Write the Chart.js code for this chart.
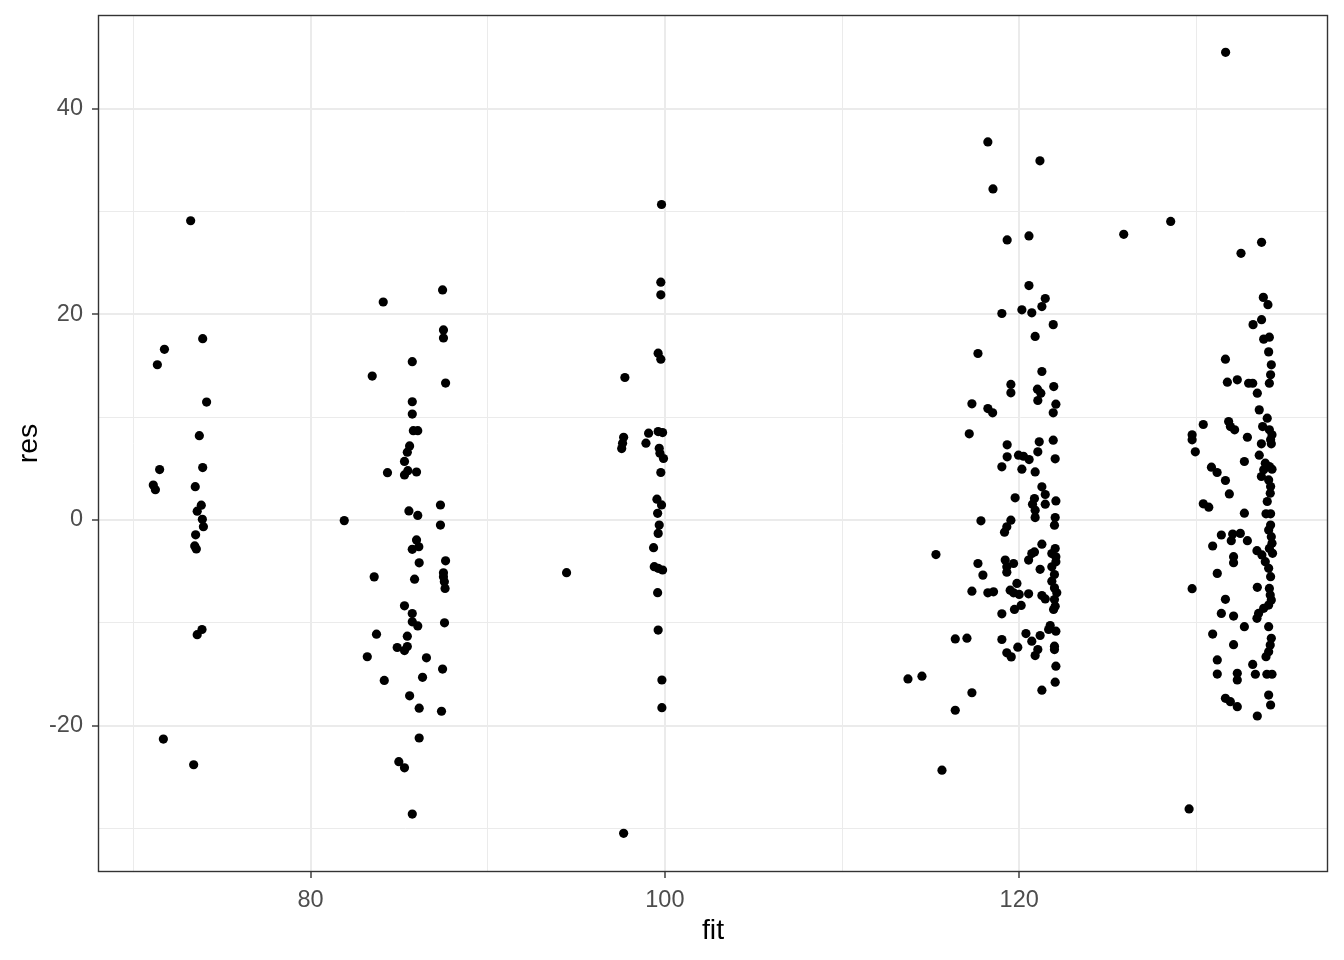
<!DOCTYPE html>
<html>
<head>
<meta charset="utf-8">
<script src="https://cdn.jsdelivr.net/npm/chart.js@4/dist/chart.umd.min.js"></script>
<style>
  html, body { margin: 0; padding: 0; background: #ffffff; }
  #wrap { width: 1344px; height: 960px; }
</style>
</head>
<body>
<div id="wrap"><canvas id="c" width="1344" height="960"></canvas></div>
<script>
// ---- data (fitted values vs residuals) ----
const fitGroup1 = [73.23,73.91,71.75,71.35,74.13,73.72,71.48,73.91,71.12,71.24,73.49,73.83,73.6,73.89,73.95,73.51,73.46,73.55,73.87,73.6,71.69,73.4];
const resGroup1 = [29.1,17.63,16.6,15.1,11.47,8.2,4.9,5.1,3.4,2.95,3.24,1.44,0.86,0.07,-0.65,-1.44,-2.52,-2.81,-10.65,-11.15,-21.3,-23.8];

const fitGroup2 = [87.45,84.1,87.5,87.5,85.74,83.48,87.62,85.74,85.74,85.8,86.05,85.59,85.46,85.3,84.34,85.3,85.49,85.98,87.33,85.55,86.05,81.9,87.33,85.98,85.74,86.11,86.13,87.62,87.5,87.5,87.55,87.59,83.59,85.87,85.3,85.74,85.74,86.05,87.56,83.72,85.46,84.89,85.46,85.3,83.2,86.54,87.45,84.16,86.32,85.59,86.13,87.39,86.13,84.98,85.3,85.74];
const resGroup2 = [22.37,21.2,18.48,17.7,15.4,14.0,13.32,11.5,10.3,8.69,8.69,7.2,6.6,5.7,4.6,4.38,4.8,4.67,1.46,0.88,0.45,-0.06,-0.49,-1.94,-2.85,-2.6,-4.16,-3.97,-5.13,-5.53,-6.01,-6.66,-5.53,-5.75,-8.35,-9.1,-9.9,-10.3,-10.0,-11.1,-11.3,-12.4,-12.3,-12.7,-13.3,-13.4,-14.5,-15.6,-15.3,-17.1,-18.3,-18.6,-21.2,-23.5,-24.1,-28.6];

const fitGroup3 = [99.81,99.77,99.77,99.62,99.77,97.74,97.67,97.61,97.56,99.08,98.93,99.62,99.87,99.68,99.72,99.92,99.77,99.55,99.81,99.59,99.68,99.62,99.36,94.45,99.4,99.62,99.87,99.59,99.62,99.83,99.83,97.67];
const resGroup3 = [30.68,23.13,21.9,16.22,15.64,13.86,8.05,7.47,6.95,8.44,7.47,8.6,8.5,6.98,6.5,5.98,4.62,2.03,1.47,0.65,-0.49,-1.3,-2.69,-5.12,-4.54,-4.7,-4.86,-7.07,-10.7,-15.56,-18.25,-30.47];

const fitGroup4 = [118.23,121.17,118.52,120.55,119.32,120.55,121.47,121.28,119.02,120.15,120.71,121.92,120.9,117.67,121.28,119.53,119.53,121.03,121.22,121.05,121.95,117.33,118.23,118.5,122.07,
  121.92,117.18,119.32,121.13,121.05,121.92,119.32,119.96,120.24,120.56,122.03,119.02,120.15,120.9,121.28,121.47,119.77,120.86,120.75,120.9,120.9,121.47,122.07,122.03,121.99,117.84,119.53,119.3,119.17,121.28,120.86,120.71,122.03,121.84,122.07,115.3,117.67,119.21,119.68,119.3,120.53,121.18,121.84,122.07,
  117.95,119.3,121.99,121.84,121.99,122.12,121.99,122.03,121.94,117.33,118.23,118.55,119.49,119.87,119.68,120.0,120.53,121.28,121.47,119.02,119.73,120.11,121.75,122.07,121.66,120.38,120.71,121.18,119.02,119.92,119.3,119.55,121.05,120.9,121.99,121.99,116.39,117.05,122.07,122.03,121.28,113.72,114.51,117.33,116.39,115.64];
const resGroup4 = [36.77,34.93,32.2,27.63,27.24,22.8,21.54,20.76,20.08,20.44,20.15,19.0,17.85,16.19,14.44,13.18,12.37,12.72,12.33,11.62,12.98,11.3,10.84,10.42,11.26,
  10.42,8.38,7.31,7.6,6.63,7.76,6.14,6.3,6.2,5.88,5.95,5.17,4.94,4.68,3.23,2.48,2.16,2.09,1.54,0.96,0.24,1.54,1.86,0.24,-0.5,-0.08,-0.02,-0.66,-1.18,-2.35,-3.1,-3.26,-2.77,-3.26,-3.58,-3.36,-4.23,-3.9,-4.23,-4.55,-3.9,-4.8,-4.55,-4.07,
  -5.36,-5.07,-5.3,-5.95,-6.6,-7.08,-7.73,-8.38,-8.7,-6.92,-7.08,-6.98,-6.82,-6.17,-7.08,-7.24,-7.18,-7.34,-7.67,-9.12,-8.7,-8.31,-10.26,-10.81,-10.65,-11.04,-11.78,-11.23,-11.62,-12.37,-12.92,-13.31,-12.6,-13.18,-12.27,-12.6,-11.56,-11.49,-14.21,-15.77,-16.55,-15.45,-15.19,-16.8,-18.5,-24.33];

const fitGroup5 = [131.65,128.55,125.9,133.68,132.52,133.78,134.04,133.68,133.2,
  133.8,134.12,134.08,131.64,134.23,134.19,131.75,132.31,132.95,133.18,134.12,133.44,133.55,134.0,130.39,131.82,131.92,132.16,133.74,134.12,134.27,134.19,134.23,129.76,129.76,132.88,133.67,129.94,132.71,133.55,133.89,134.12,133.8,134.27,130.85,131.17,131.64,133.67,134.08,134.19,134.17,131.86,134.0,130.39,130.7,132.71,133.93,134.19,
  134.19,134.08,134.23,134.27,134.12,134.3,131.41,132.05,132.48,131.97,132.88,130.92,133.42,133.7,132.1,132.1,133.89,134.08,134.19,131.18,129.76,133.44,134.12,134.17,134.23,134.08,131.64,133.8,133.51,133.42,131.41,132.1,132.71,134.08,130.92,134.23,134.17,134.08,133.93,132.1,131.18,133.18,131.18,132.31,132.31,133.33,133.98,134.27,131.64,131.92,132.31,134.08,134.19,133.44,129.59];
const resGroup5 = [45.48,29.04,27.78,27.0,25.93,21.65,20.94,19.48,19.0,
  17.59,17.78,16.35,15.64,15.09,14.12,13.4,13.63,13.3,13.3,13.3,12.33,10.71,9.9,9.29,9.58,9.09,8.77,9.09,8.77,8.28,7.8,7.41,8.28,7.8,8.05,7.41,6.63,5.69,6.3,5.53,5.2,4.88,4.94,5.14,4.62,3.84,4.23,3.9,3.26,2.61,2.54,1.8,1.57,1.25,0.66,0.6,0.6,
  -0.49,-0.97,-1.62,-2.27,-2.76,-3.24,-1.46,-1.36,-1.3,-2.01,-2.01,-2.53,-2.98,-3.4,-3.57,-4.15,-4.05,-4.7,-5.51,-5.19,-6.68,-6.55,-6.65,-7.29,-7.78,-8.27,-7.71,-8.59,-9.08,-9.56,-9.08,-9.34,-10.37,-10.37,-11.09,-11.5,-12.16,-12.8,-13.29,-12.12,-13.61,-14.04,-14.98,-14.91,-15.56,-15.0,-15.0,-15.0,-17.34,-17.67,-18.15,-17.02,-17.99,-19.06,-28.1];

const xLabelTicks = [80, 100, 120];
const yLabelTicks = [-20, 0, 20, 40];
const xLimits = [68.0, 137.43];
const yLimits = [-34.23, 49.11];
const xTitle = 'fit';
const yTitle = 'res';

// ---- build ----
const fitAll = [].concat(fitGroup1, fitGroup2, fitGroup3, fitGroup4, fitGroup5);
const resAll = [].concat(resGroup1, resGroup2, resGroup3, resGroup4, resGroup5);
const points = fitAll.map((x, i) => ({ x: x, y: resAll[i] }));

function gridTicks(scale) {
  const t = [];
  for (let v = Math.ceil(scale.min / 10) * 10; v <= scale.max; v += 10) t.push({ value: v });
  scale.ticks = t;
}

const FONT = '"Liberation Sans", Arial, sans-serif';

const borderPlugin = {
  id: 'panelBorder',
  afterDraw(chart) {
    const a = chart.chartArea, ctx = chart.ctx;
    ctx.save();
    ctx.strokeStyle = '#333333';
    ctx.lineWidth = 1.4;
    ctx.strokeRect(a.left + 0.5, a.top + 0.5, a.right - a.left - 1, a.bottom - a.top - 1);
    ctx.restore();
  }
};

new Chart(document.getElementById('c'), {
  type: 'scatter',
  data: {
    datasets: [{
      data: points,
      pointRadius: 4.6,
      pointHoverRadius: 4.6,
      backgroundColor: '#000000',
      borderWidth: 0
    }]
  },
  options: {
    responsive: false,
    animation: false,
    events: [],
    devicePixelRatio: 1,
    layout: { padding: { left: 0, right: 16, top: 15, bottom: 0 } },
    plugins: { legend: { display: false }, tooltip: { enabled: false } },
    scales: {
      x: {
        type: 'linear',
        min: xLimits[0], max: xLimits[1],
        afterBuildTicks: gridTicks,
        afterFit(scale) { scale.height = 88; scale.paddingLeft = 0; scale.paddingRight = 0; },
        border: { display: false },
        grid: {
          color: '#EBEBEB',
          lineWidth: ctx => (ctx.tick && xLabelTicks.includes(ctx.tick.value)) ? 2 : 1,
          tickColor: ctx => (ctx.tick && xLabelTicks.includes(ctx.tick.value)) ? '#333333' : 'rgba(0,0,0,0)',
          tickWidth: 1.4,
          tickLength: 6,
          drawTicks: true
        },
        ticks: {
          autoSkip: false,
          maxRotation: 0,
          padding: 8,
          color: '#4D4D4D',
          font: { family: FONT, size: 23.5 },
          callback: v => xLabelTicks.includes(v) ? String(v) : ''
        },
        title: {
          display: true, text: xTitle, color: '#000000',
          font: { family: FONT, size: 28.5 },
          padding: { top: 0, bottom: 12 }
        }
      },
      y: {
        type: 'linear',
        min: yLimits[0], max: yLimits[1],
        afterBuildTicks: gridTicks,
        afterFit(scale) { scale.width = 98; scale.paddingTop = 0; scale.paddingBottom = 0; },
        border: { display: false },
        grid: {
          color: '#EBEBEB',
          lineWidth: ctx => (ctx.tick && yLabelTicks.includes(ctx.tick.value)) ? 2 : 1,
          tickColor: ctx => (ctx.tick && yLabelTicks.includes(ctx.tick.value)) ? '#333333' : 'rgba(0,0,0,0)',
          tickWidth: 1.4,
          tickLength: 6,
          drawTicks: true
        },
        ticks: {
          autoSkip: false,
          padding: 9,
          color: '#4D4D4D',
          font: { family: FONT, size: 23.5 },
          callback: v => yLabelTicks.includes(v) ? String(v) : ''
        },
        title: {
          display: true, text: yTitle, color: '#000000',
          font: { family: FONT, size: 28.5 },
          padding: { top: 12, bottom: 0 }
        }
      }
    }
  },
  plugins: [borderPlugin]
});
</script>
</body>
</html>
